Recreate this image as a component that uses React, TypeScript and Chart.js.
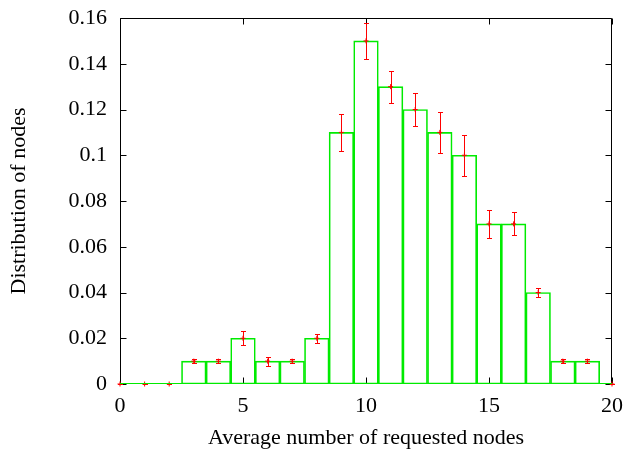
import React, { useEffect, useRef } from "react";
import { Chart, registerables } from "chart.js";

Chart.register(...registerables);

const xValues = [0, 1, 2, 3, 4, 5, 6, 7, 8, 9, 10, 11, 12, 13, 14, 15, 16, 17, 18, 19, 20];
const distribution = [0, 0, 0, 0.01, 0.01, 0.02, 0.01, 0.01, 0.02, 0.11, 0.15, 0.13, 0.12, 0.11, 0.10, 0.07, 0.07, 0.04, 0.01, 0.01, 0];
const errors = [0, 0, 0, 0.001, 0.001, 0.003, 0.002, 0.001, 0.002, 0.008, 0.008, 0.007, 0.007, 0.009, 0.009, 0.006, 0.005, 0.002, 0.001, 0.001, 0];
const xTickValues = [0, 5, 10, 15, 20];
const xTickLabels = ["0", "5", "10", "15", "20"];
const yTickValues = [0, 0.02, 0.04, 0.06, 0.08, 0.1, 0.12, 0.14, 0.16];
const yTickLabels = ["0", "0.02", "0.04", "0.06", "0.08", "0.1", "0.12", "0.14", "0.16"];
const xTitle = "Average number of requested nodes";
const yTitle = "Distribution of nodes";

const GREEN = "rgb(0,235,0)";
const RED = "rgb(255,0,0)";
const FONT = "'Liberation Serif', 'Times New Roman', serif";
const FS = 22;

const framePlugin = {
  id: "frame",
  beforeDatasetsDraw(chart: any) {
    const { ctx, chartArea } = chart;
    const xs = chart.scales.x;
    const ys = chart.scales.y;
    const L = Math.round(chartArea.left) + 0.5;
    const R = Math.round(chartArea.right) - 0.5;
    const T = Math.round(chartArea.top) + 0.5;
    const B = Math.round(chartArea.bottom) - 0.5;
    const tl = 6;
    ctx.save();
    ctx.strokeStyle = "#000";
    ctx.lineWidth = 1;
    ctx.beginPath();
    ctx.rect(L, T, R - L, B - T);
    for (const v of xTickValues) {
      const px = Math.round(xs.getPixelForValue(v)) + 0.5;
      ctx.moveTo(px, B);
      ctx.lineTo(px, B - tl);
      ctx.moveTo(px, T);
      ctx.lineTo(px, T + tl);
    }
    for (const v of yTickValues) {
      const py = Math.round(ys.getPixelForValue(v)) + 0.5;
      ctx.moveTo(L, py);
      ctx.lineTo(L + tl, py);
      ctx.moveTo(R, py);
      ctx.lineTo(R - tl, py);
    }
    ctx.stroke();
    ctx.restore();
  },
  afterDatasetsDraw(chart: any) {
    const { ctx } = chart;
    const xs = chart.scales.x;
    const ys = chart.scales.y;
    ctx.save();
    ctx.strokeStyle = GREEN;
    ctx.lineWidth = 1;
    const by = Math.round(ys.getPixelForValue(0)) - 0.5;
    ctx.beginPath();
    ctx.moveTo(xs.getPixelForValue(xValues[0]), by);
    ctx.lineTo(xs.getPixelForValue(xValues[xValues.length - 1]), by);
    ctx.stroke();
    ctx.strokeStyle = RED;
    ctx.beginPath();
    const cap = 2.5;
    xValues.forEach((x, i) => {
      const px = Math.round(xs.getPixelForValue(x)) + 0.5;
      const y1 = Math.round(ys.getPixelForValue(distribution[i] + errors[i])) + 0.5;
      const y2 = Math.round(ys.getPixelForValue(distribution[i] - errors[i])) + 0.5;
      ctx.moveTo(px, y1);
      ctx.lineTo(px, y2);
      ctx.moveTo(px - cap, y1);
      ctx.lineTo(px + cap, y1);
      ctx.moveTo(px - cap, y2);
      ctx.lineTo(px + cap, y2);
    });
    ctx.stroke();
    ctx.restore();
  },
};

export default function App() {
  const ref = useRef<HTMLCanvasElement>(null);
  useEffect(() => {
    if (!ref.current) return;
    const chart = new Chart(ref.current, {
      type: "bar",
      data: {
        datasets: [
          {
            type: "bar",
            data: xValues.map((x, i) => ({ x, y: distribution[i] })),
            borderColor: GREEN,
            backgroundColor: "rgba(0,0,0,0)",
            borderWidth: 1,
            borderSkipped: false,
            categoryPercentage: 1,
            barPercentage: 1,
            order: 2,
          } as any,
          {
            type: "scatter",
            data: xValues.map((x, i) => ({ x, y: distribution[i] })),
            pointStyle: "cross",
            pointRadius: 2.5,
            borderColor: RED,
            backgroundColor: RED,
            borderWidth: 1,
            showLine: false,
            clip: false,
            order: 1,
          } as any,
        ],
      },
      options: {
        animation: false,
        responsive: false,
        devicePixelRatio: 1,
        layout: { padding: { left: 0, right: 15, top: 18, bottom: 0 } },
        plugins: { legend: { display: false }, tooltip: { enabled: false } },
        scales: {
          x: {
            type: "linear",
            min: 0,
            max: 20,
            offset: false,
            grid: { display: false, drawTicks: false },
            border: { display: false },
            afterBuildTicks: (s: any) => {
              s.ticks = xTickValues.map((v) => ({ value: v }));
            },
            afterFit: (s: any) => {
              s.height = 67;
              s.paddingLeft = 0;
              s.paddingRight = 0;
              s.paddingTop = 0;
              s.paddingBottom = 0;
            },
            ticks: {
              color: "#000",
              padding: 9,
              maxRotation: 0,
              font: { family: FONT, size: FS },
              callback: (_v: any, i: number) => xTickLabels[i],
            },
            title: {
              display: true,
              text: xTitle,
              color: "#000",
              padding: { top: 0, bottom: 0 },
              font: { family: FONT, size: FS },
            },
          },
          y: {
            type: "linear",
            min: 0,
            max: 0.16,
            grid: { display: false, drawTicks: false },
            border: { display: false },
            afterBuildTicks: (s: any) => {
              s.ticks = yTickValues.map((v) => ({ value: v }));
            },
            afterFit: (s: any) => {
              s.width = 120;
              s.paddingLeft = 0;
              s.paddingRight = 0;
              s.paddingTop = 0;
              s.paddingBottom = 0;
            },
            ticks: {
              color: "#000",
              padding: 13,
              font: { family: FONT, size: FS },
              callback: (_v: any, i: number) => yTickLabels[i],
            },
            title: {
              display: true,
              text: yTitle,
              color: "#000",
              padding: { top: 6, bottom: 0 },
              font: { family: FONT, size: FS },
            },
          },
        },
      },
      plugins: [framePlugin],
    } as any);
    return () => chart.destroy();
  }, []);
  return (
    <div style={{ position: "fixed", left: 0, top: 0, width: 627, height: 451, background: "#fff" }}>
      <canvas ref={ref} width={627} height={451} style={{ width: 627, height: 451 }} />
    </div>
  );
}
